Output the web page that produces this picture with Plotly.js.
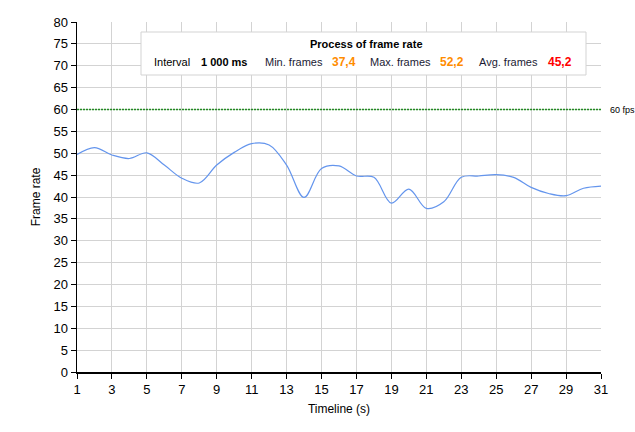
<!DOCTYPE html>
<html>
<head>
<meta charset="utf-8">
<script src="https://cdn.plot.ly/plotly-3.0.1.min.js"></script>
<style>html,body{margin:0;padding:0;background:#fff;} #chart{width:635px;height:432px;}</style>
</head>
<body>
<div id="chart"></div>
<script>
// ---- data ----
const seconds = [1,2,3,4,5,6,7,8,9,10,11,12,13,14,15,16,17,18,19,20,21,22,23,24,25,26,27,28,29,30,31];
const frameRate = [49.7,51.3,49.6,48.8,50.1,47.3,44.3,43.2,47.3,50.2,52.2,51.9,47.3,39.9,46.5,47.1,44.8,44.5,38.6,41.8,37.4,38.9,44.5,44.8,45.1,44.5,42.2,40.8,40.3,42.0,42.5];
const targetFps = [60];
const targetLabel = ['60 fps'];
const statLabels = ['Interval', 'Min. frames', 'Max. frames', 'Avg. frames'];
const statValues = ['1 000 ms', '37,4', '52,2', '45,2'];
const boxTitle = ['Process of frame rate'];

// ---- layout helpers (pixel -> paper) ----
const L = 77, R = 34, T = 22, B = 60, W = 635, H = 432;
const pw = W - L - R, ph = H - T - B;
const px = x => (x - L) / pw;
const py = y => (H - B - y) / ph;
const FONT = 'Liberation Sans, Arial, sans-serif';

const traces = [
  {
    x: seconds, y: frameRate, type: 'scatter', mode: 'lines',
    line: {color: '#6495ED', width: 1.2, shape: 'spline', smoothing: 1},
    hoverinfo: 'x+y', showlegend: false
  },
  {
    x: [seconds[0], seconds[seconds.length - 1]], y: [targetFps[0], targetFps[0]],
    type: 'scatter', mode: 'lines',
    line: {color: '#228B22', width: 1.4, dash: '2px,1px'},
    showlegend: false, hoverinfo: 'skip'
  }
];

const annotations = [
  {xref: 'paper', yref: 'y', x: 1, y: targetFps[0], xanchor: 'left', yanchor: 'middle', xshift: 7,
   text: targetLabel[0], showarrow: false, font: {family: FONT, size: 9, color: '#000'}},
  {xref: 'paper', yref: 'paper', x: px(366), y: py(44), xanchor: 'center', yanchor: 'middle',
   text: '<b>' + boxTitle[0] + '</b>', showarrow: false, font: {family: FONT, size: 11, color: '#000'}},
  {xref: 'paper', yref: 'paper', x: px(152), y: py(62), xanchor: 'left', yanchor: 'middle',
   text: statLabels[0], showarrow: false, font: {family: FONT, size: 11, color: '#000'}},
  {xref: 'paper', yref: 'paper', x: px(199), y: py(62), xanchor: 'left', yanchor: 'middle',
   text: '<b>' + statValues[0] + '</b>', showarrow: false, font: {family: FONT, size: 11, color: '#000'}},
  {xref: 'paper', yref: 'paper', x: px(263), y: py(62), xanchor: 'left', yanchor: 'middle',
   text: statLabels[1], showarrow: false, font: {family: FONT, size: 11, color: '#1a1a33'}},
  {xref: 'paper', yref: 'paper', x: px(330), y: py(62), xanchor: 'left', yanchor: 'middle',
   text: '<b>' + statValues[1] + '</b>', showarrow: false, font: {family: FONT, size: 12, color: '#FF8C00'}},
  {xref: 'paper', yref: 'paper', x: px(368), y: py(62), xanchor: 'left', yanchor: 'middle',
   text: statLabels[2], showarrow: false, font: {family: FONT, size: 11, color: '#1a1a33'}},
  {xref: 'paper', yref: 'paper', x: px(438), y: py(62), xanchor: 'left', yanchor: 'middle',
   text: '<b>' + statValues[2] + '</b>', showarrow: false, font: {family: FONT, size: 12, color: '#FF8C00'}},
  {xref: 'paper', yref: 'paper', x: px(477), y: py(62), xanchor: 'left', yanchor: 'middle',
   text: statLabels[3], showarrow: false, font: {family: FONT, size: 11, color: '#1a1a33'}},
  {xref: 'paper', yref: 'paper', x: px(546), y: py(62), xanchor: 'left', yanchor: 'middle',
   text: '<b>' + statValues[3] + '</b>', showarrow: false, font: {family: FONT, size: 12, color: '#FF0000'}}
];

const layout = {
  width: W, height: H,
  margin: {l: L, r: R, t: T, b: B, pad: 0},
  paper_bgcolor: '#fff', plot_bgcolor: '#fff',
  font: {family: FONT, size: 13, color: '#000'},
  showlegend: false,
  xaxis: {
    range: [1, 31], tick0: 1, dtick: 2, ticks: 'outside', ticklen: 5, tickcolor: '#000', tickwidth: 1,
    showgrid: true, gridcolor: '#d3d3d3', gridwidth: 1,
    showline: true, linecolor: '#000', linewidth: 1.5, zeroline: false,
    tickfont: {family: FONT, size: 13, color: '#000'},
    title: {text: 'Timeline (s)', font: {family: FONT, size: 12, color: '#000'}, standoff: 8}
  },
  yaxis: {
    range: [0, 80], tick0: 0, dtick: 5, ticks: 'outside', ticklen: 5, tickcolor: '#000', tickwidth: 1,
    showgrid: true, gridcolor: '#d3d3d3', gridwidth: 1,
    showline: true, linecolor: '#000', linewidth: 1.5, zeroline: false,
    tickfont: {family: FONT, size: 13, color: '#000'},
    title: {text: 'Frame rate', font: {family: FONT, size: 12, color: '#000'}, standoff: 10}
  },
  shapes: [
    {type: 'rect', xref: 'paper', yref: 'paper', x0: px(141), x1: px(586), y0: py(75), y1: py(32),
     fillcolor: '#fff', line: {color: '#d3d3d3', width: 1}, layer: 'above'}
  ],
  annotations: annotations
};

Plotly.newPlot('chart', traces, layout, {displayModeBar: false, staticPlot: true});
</script>
</body>
</html>
